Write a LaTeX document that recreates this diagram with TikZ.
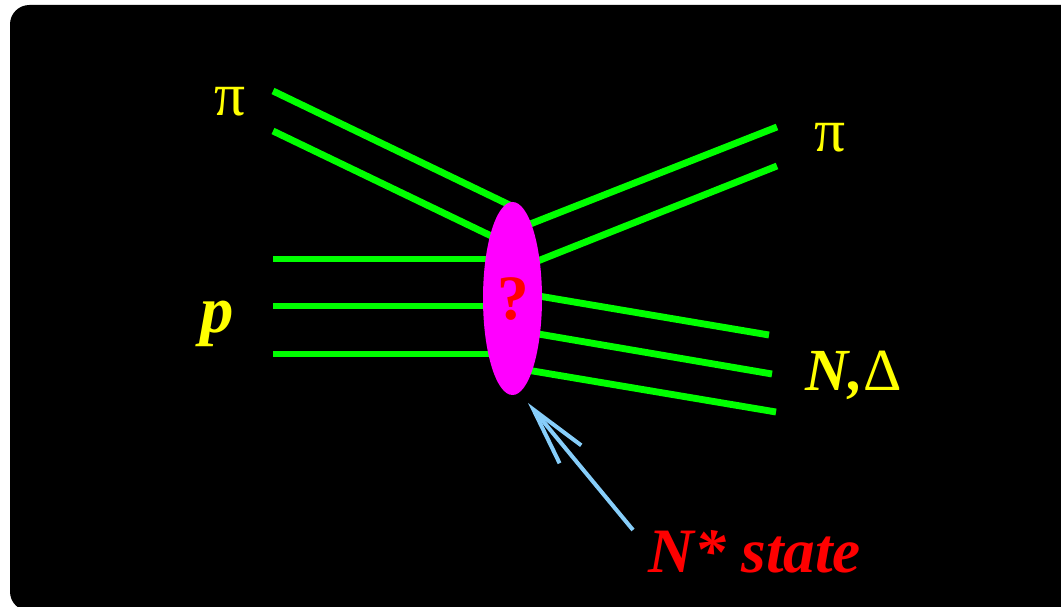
\documentclass[tikz,border=0pt]{standalone}
\usepackage{fontspec}
\setmainfont{Liberation Serif}
\usetikzlibrary{arrows.meta,shapes.geometric}
\definecolor{cizgiYesil}{HTML}{00FF00}
\definecolor{etiketSari}{HTML}{FFFF00}
\definecolor{okMavi}{HTML}{87CEFA}
\definecolor{kabarcikPembe}{HTML}{FF00FF}
\definecolor{yaziKirmizi}{HTML}{FF0000}

\begin{document}
\begin{tikzpicture}[x=0.02cm,y=-0.02cm,
  parca/.style={cizgiYesil,line width=3.9pt},
  etiket/.style={etiketSari,inner sep=0pt,font=\fontsize{34}{40}\selectfont\bfseries\itshape}]
\useasboundingbox (0,0) rectangle (1061,607);
\begin{scope}
\clip (0,0) rectangle (1061,607);
\fill[black,rounded corners=11pt] (10,5) rectangle (1090,611);
\end{scope}
% gelen pion
\coordinate (piGir1) at (273,91);  \coordinate (piSon1) at (520,210);
\coordinate (piGir2) at (273,131); \coordinate (piSon2) at (510,245);
\draw[parca] (piGir1) -- (piSon1);
\draw[parca] (piGir2) -- (piSon2);
% proton
\foreach \i/\yy in {1/259,2/306,3/354}{
  \coordinate (pGir\i) at (273,\yy);
  \coordinate (pSon\i) at (512,\yy);
  \draw[parca] (pGir\i) -- (pSon\i);
}
% cikan pion
\coordinate (piCik1) at (515,230); \coordinate (piUc1) at (777,127);
\coordinate (piCik2) at (515,270); \coordinate (piUc2) at (777,166);
\draw[parca] (piCik1) -- (piUc1);
\draw[parca] (piCik2) -- (piUc2);
% cikan nukleon
\foreach \i/\ya/\xb/\yb in {1/292/769/335,2/330/772/374,3/368/776/412}{
  \coordinate (nCik\i) at (515,\ya);
  \coordinate (nUc\i) at (\xb,\yb);
  \draw[parca] (nCik\i) -- (nUc\i);
}
\node[ellipse,fill=kabarcikPembe,minimum width=59*0.02cm,minimum height=193*0.02cm,inner sep=0pt] (kabarcik) at (512.5,298.5) {};
\node[yaziKirmizi,inner sep=0pt,anchor=base,font=\fontsize{36}{40}\selectfont\bfseries] (soru) at (513,320) {?};
% etiketler
\node[etiket,anchor=base,font=\fontsize{35}{40}\selectfont] (piSol) at (230,116) {π};
\node[etiket,anchor=base,font=\fontsize{35}{40}\selectfont] (piSag) at (830,152) {π};
\node[etiket,anchor=base west,font=\fontsize{38}{40}\selectfont\bfseries\itshape] (proton) at (200,333) {p};
\node[etiket,anchor=base west] (nukleon) at (805,391) {N,{\upshape\mdseries Δ}};
\node[yaziKirmizi,inner sep=0pt,anchor=base west,font=\fontsize{36}{40}\selectfont\bfseries\itshape] (durum) at (648,572) {N* state};
% ok
\coordinate (okBas) at (633,530);
\coordinate (okUc) at (528,403);
\draw[okMavi,line width=2.3pt,-{Straight Barb[length=33pt,width=16pt]}] (okBas) -- (okUc);
\end{tikzpicture}
\end{document}
